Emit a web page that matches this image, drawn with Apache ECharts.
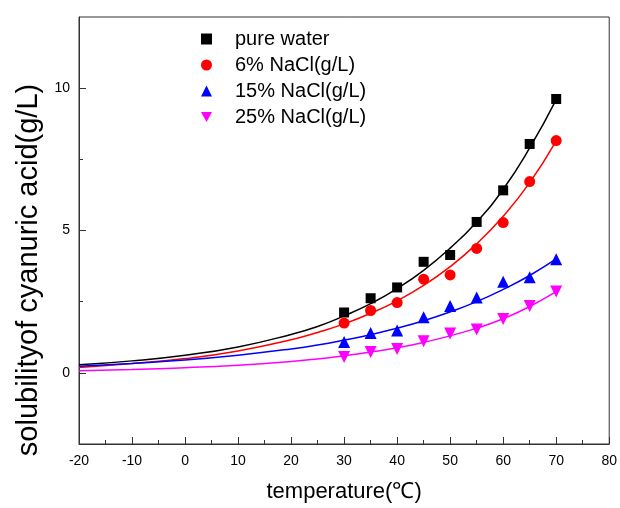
<!DOCTYPE html>
<html>
<head>
<meta charset="utf-8">
<script src="https://cdn.jsdelivr.net/npm/echarts@6/dist/echarts.min.js"></script>
<style>
  html, body { margin: 0; padding: 0; background: #fff; }
  #main { width: 620px; height: 508px; }
</style>
</head>
<body>
<div id="main"></div>
<script>
// measured points
const temps = [30, 35, 40, 45, 50, 55, 60, 65, 70]
const pureWater = [2.12, 2.62, 3.0, 3.9, 4.14, 5.3, 6.41, 8.04, 9.62]
const nacl6 = [1.75, 2.19, 2.47, 3.29, 3.44, 4.37, 5.28, 6.72, 8.16]
const nacl15 = [1.08, 1.40, 1.49, 1.95, 2.35, 2.65, 3.2, 3.36, 3.99]
const nacl25 = [0.56, 0.73, 0.84, 1.11, 1.38, 1.52, 1.89, 2.35, 2.86]

// fitted curves
const fitTemps = [-20, -10, 0, 10, 20, 25, 30, 35, 40, 45, 50, 55, 60, 65, 70]
const fitPure = [0.28, 0.42, 0.62, 0.91, 1.35, 1.63, 2.0, 2.43, 2.96, 3.6, 4.38, 5.3, 6.45, 7.9, 9.6]
const fit6 = [0.19, 0.33, 0.5, 0.77, 1.16, 1.42, 1.72, 2.09, 2.53, 3.07, 3.73, 4.53, 5.5, 6.68, 8.15]
const fit15 = [0.23, 0.33, 0.45, 0.62, 0.84, 0.98, 1.15, 1.34, 1.57, 1.83, 2.14, 2.5, 2.93, 3.42, 4.0]
const fit25 = [0.07, 0.12, 0.18, 0.27, 0.4, 0.49, 0.6, 0.73, 0.88, 1.07, 1.3, 1.57, 1.9, 2.33, 2.85]

const names = ['pure water', '6% NaCl(g/L)', '15% NaCl(g/L)', '25% NaCl(g/L)']
const colors = ['#000000', '#ff0000', '#0000ff', '#ff00ff']
const yMajor = [0, 5, 10]
const yMinor = [2.5, 7.5]

const font = 'Arial, "Liberation Sans", sans-serif'
const pairs = (xs, ys) => xs.map((x, i) => [x, ys[i]])
const downTri = 'path://M0,0 L10,0 L5,9 Z'

const pts = [pureWater, nacl6, nacl15, nacl25]
const fits = [fitPure, fit6, fit15, fit25]
const symbols = ['rect', 'circle', 'triangle', downTri]
const sizes = [10, 11, 12, 12]

const series = []
fits.forEach((f, i) => {
  series.push({
    type: 'line',
    name: 'fit' + i,
    data: pairs(fitTemps, f),
    smooth: true,
    showSymbol: false,
    silent: true,
    lineStyle: { color: colors[i], width: 1.5 },
    z: 2
  })
})
pts.forEach((p, i) => {
  series.push({
    type: 'scatter',
    name: names[i],
    data: pairs(temps, p),
    symbol: symbols[i],
    symbolSize: sizes[i],
    itemStyle: { color: colors[i], opacity: 1 },
    z: 3
  })
})

const chart = echarts.init(document.getElementById('main'))
const option = {
  backgroundColor: '#fff',
  animation: false,
  grid: {
    left: 79, right: 10, top: 17, bottom: 60,
    show: true, borderColor: '#333', borderWidth: 1
  },
  legend: {
    orient: 'vertical',
    left: 196,
    top: 24,
    itemWidth: 11,
    itemHeight: 11,
    itemGap: 6,
    data: names.map((n, i) => ({ name: n, icon: symbols[i] })),
    itemStyle: { opacity: 1 },
    textStyle: { fontFamily: font, fontSize: 20, color: '#000', padding: [0, 0, 0, 18] }
  },
  xAxis: {
    type: 'value',
    min: -20,
    max: 80,
    interval: 10,
    axisLine: { onZero: false, lineStyle: { color: '#333', width: 1 } },
    axisTick: { inside: true, length: 7, lineStyle: { color: '#333' } },
    minorTick: { show: true, splitNumber: 2, length: 4, lineStyle: { color: '#333' } },
    splitLine: { show: false },
    axisLabel: { margin: 10, fontFamily: font, fontSize: 14, color: '#000' },
    name: 'temperature(℃)',
    nameLocation: 'middle',
    nameGap: 37,
    nameTextStyle: { fontFamily: font, fontSize: 22, color: '#000' }
  },
  yAxis: [{
    type: 'value',
    min: -2.5,
    max: 12.5,
    interval: 2.5,
    axisLine: { show: true, onZero: false, lineStyle: { color: '#333', width: 1 } },
    axisTick: { show: true, inside: true, length: 7, customValues: yMajor, lineStyle: { color: '#333' } },
    splitLine: { show: false },
    axisLabel: { margin: 9, customValues: yMajor, fontFamily: font, fontSize: 14, color: '#000' }
  }, {
    type: 'value',
    min: -2.5,
    max: 12.5,
    interval: 2.5,
    position: 'left',
    axisLine: { show: false, onZero: false },
    axisTick: { show: true, inside: true, length: 4, customValues: yMinor, lineStyle: { color: '#333' } },
    splitLine: { show: false },
    axisLabel: { show: false }
  }],
  graphic: [{
    type: 'text',
    x: 29,
    y: 270,
    rotation: Math.PI / 2,
    style: {
      text: 'solubilityof cyanuric acid(g/L)',
      font: '29px ' + font,
      fill: '#000',
      align: 'center',
      verticalAlign: 'middle'
    }
  }],
  series: series
}
chart.setOption(option)
</script>
</body>
</html>
